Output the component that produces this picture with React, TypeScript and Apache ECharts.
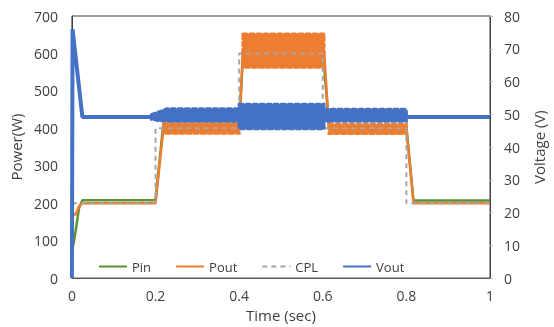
import React, { useEffect, useRef } from "react";
import * as echarts from "echarts";

// ---- data ----
const legendNames = ["Pin", "Pout", "CPL", "Vout"];

const pinTime = [0, 0.003, 0.009, 0.017, 0.025, 0.2, 0.218, 0.4, 0.41, 0.6, 0.615, 0.8, 0.817, 1];
const pinValue = [83, 86, 126, 187, 208, 208, 406, 406, 610, 610, 406, 406, 207, 207];

const poutTime = [0, 0.009, 0.017, 0.025, 0.2, 0.219, 0.4, 0.409, 0.603, 0.615, 0.8, 0.817, 1];
const poutValue = [170, 170, 192, 200, 200, 400, 400, 608, 608, 398, 398, 200, 200];

const poutBand1Time = [0.219, 0.4];
const poutBand1Low = [387, 387];
const poutBand1High = [412, 412];
const poutBand2Time = [0.409, 0.603];
const poutBand2Low = [563, 563];
const poutBand2High = [652, 652];
const poutBand3Time = [0.615, 0.8];
const poutBand3Low = [386, 386];
const poutBand3High = [410, 410];

const cplTime = [0, 0.2, 0.2, 0.4, 0.4, 0.6, 0.6, 0.8, 0.8, 1];
const cplValue = [200, 200, 400, 400, 600, 600, 400, 400, 200, 200];

const voutTime = [0, 0.0015, 0.025, 1];
const voutValue = [0, 76, 49.2, 49.2];

const voutBandATime = [0.19, 0.205, 0.228, 0.4];
const voutBandALow = [48.5, 48.1, 47.9, 47.9];
const voutBandAHigh = [49.9, 50.6, 51.7, 51.7];
const voutBandBTime = [0.4, 0.603];
const voutBandBLow = [45.6, 45.6];
const voutBandBHigh = [53.1, 53.1];
const voutBandCTime = [0.603, 0.8];
const voutBandCLow = [47.9, 47.9];
const voutBandCHigh = [51.5, 51.5];

const GREEN = "#5a9234";
const ORANGE = "#ed7d31";
const GRAY = "#a5a5a5";
const BLUE = "#4472c4";
const FONT = "Open Sans";
const TEXT = "#404040";

const zip = (t: number[], v: number[]) => t.map((x, i) => [x, v[i]]);

function band(name: string, times: number[], lo: number[], hi: number[], color: string, yAxisIndex: number, z: number) {
  return {
    type: "custom",
    name,
    z,
    xAxisIndex: 0,
    yAxisIndex,
    coordinateSystem: "cartesian2d",
    silent: true,
    data: [[times[0], lo[0]]],
    renderItem: (params: any, api: any) => {
      const pts: number[][] = [];
      for (let i = 0; i < times.length; i++) pts.push(api.coord([times[i], hi[i]]));
      for (let i = times.length - 1; i >= 0; i--) pts.push(api.coord([times[i], lo[i]]));
      return {
        type: "polygon",
        shape: { points: pts },
        style: { fill: color, stroke: color, lineWidth: 3, lineDash: [4, 3], lineCap: "round" },
      };
    },
  };
}

export default function App() {
  const ref = useRef<HTMLDivElement>(null);
  useEffect(() => {
    document.body.style.margin = "0";
    const chart = echarts.init(ref.current!, undefined, { renderer: "svg" });
    chart.setOption({
      animation: false,
      textStyle: { fontFamily: FONT },
      grid: { left: 71, right: 62, top: 16, bottom: 42, show: true, borderColor: "#404040", borderWidth: 1 },
      legend: {
        data: legendNames,
        left: 93,
        top: 255,
        itemWidth: 28,
        itemHeight: 14,
        itemGap: 24,
        itemStyle: { opacity: 0 },
        textStyle: { fontFamily: FONT, fontSize: 13, color: TEXT },
      },
      xAxis: {
        type: "value",
        min: 0,
        max: 1,
        interval: 0.2,
        name: "Time (sec)",
        nameLocation: "middle",
        nameGap: 27,
        nameTextStyle: { fontFamily: FONT, fontSize: 15, color: TEXT },
        axisLine: { show: true, lineStyle: { color: "#595959" } },
        axisTick: { show: false },
        splitLine: { show: false },
        axisLabel: { margin: 10, fontFamily: FONT, fontSize: 14, color: TEXT },
      },
      yAxis: [
        {
          type: "value",
          min: 0,
          max: 700,
          interval: 100,
          name: "Power(W)",
          nameLocation: "middle",
          nameGap: 43,
          nameTextStyle: { fontFamily: FONT, fontSize: 15, color: TEXT },
          axisLine: { show: true, lineStyle: { color: "#404040" } },
          axisTick: { show: false },
          splitLine: { show: false },
          axisLabel: { margin: 14, fontFamily: FONT, fontSize: 14, color: TEXT },
        },
        {
          type: "value",
          min: 0,
          max: 80,
          interval: 10,
          position: "right",
          name: "Voltage (V)",
          nameLocation: "middle",
          nameGap: 41,
          nameTextStyle: { fontFamily: FONT, fontSize: 15, color: TEXT },
          axisLine: { show: true, lineStyle: { color: "#404040" } },
          axisTick: { show: true, length: 3, lineStyle: { color: "#bfbfbf" } },
          splitLine: { show: false },
          axisLabel: { margin: 14, fontFamily: FONT, fontSize: 14, color: TEXT },
        },
      ],
      series: [
        {
          name: "Pin",
          type: "line",
          z: 1,
          yAxisIndex: 0,
          data: zip(pinTime, pinValue),
          symbol: "none",
          lineStyle: { color: GREEN, width: 2.5 },
          itemStyle: { color: GREEN },
        },
        band("Pout band 1", poutBand1Time, poutBand1Low, poutBand1High, ORANGE, 0, 2),
        band("Pout band 2", poutBand2Time, poutBand2Low, poutBand2High, ORANGE, 0, 2),
        band("Pout band 3", poutBand3Time, poutBand3Low, poutBand3High, ORANGE, 0, 2),
        {
          name: "Pout",
          type: "line",
          z: 2,
          yAxisIndex: 0,
          data: zip(poutTime, poutValue),
          symbol: "none",
          lineStyle: { color: ORANGE, width: 2.5 },
          itemStyle: { color: ORANGE },
        },
        {
          name: "CPL",
          type: "line",
          z: 3,
          yAxisIndex: 0,
          data: zip(cplTime, cplValue),
          symbol: "none",
          lineStyle: { color: GRAY, width: 2, type: [5, 4] },
          itemStyle: { color: GRAY },
        },
        band("Vout band A", voutBandATime, voutBandALow, voutBandAHigh, BLUE, 1, 4),
        band("Vout band B", voutBandBTime, voutBandBLow, voutBandBHigh, BLUE, 1, 4),
        band("Vout band C", voutBandCTime, voutBandCLow, voutBandCHigh, BLUE, 1, 4),
        {
          name: "Vout",
          type: "line",
          z: 4,
          yAxisIndex: 1,
          data: zip(voutTime, voutValue),
          symbol: "none",
          lineStyle: { color: BLUE, width: 4 },
          itemStyle: { color: BLUE },
        },
      ],
    });
    return () => chart.dispose();
  }, []);
  return <div ref={ref} style={{ width: 554, height: 327, position: "fixed", left: 0, top: 0 }} />;
}
